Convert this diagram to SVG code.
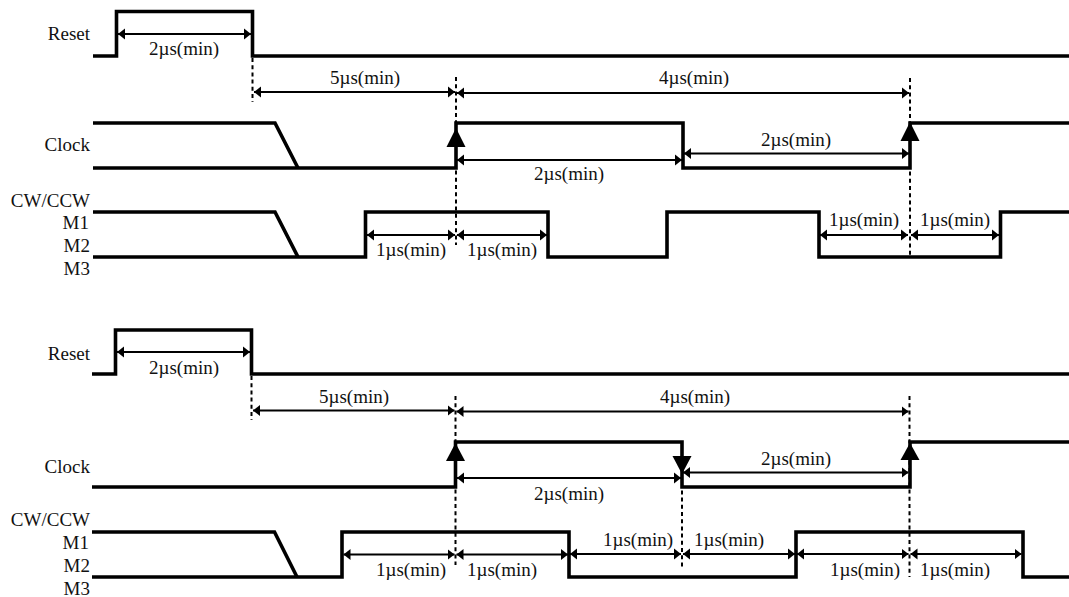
<svg xmlns="http://www.w3.org/2000/svg" width="1069" height="597" viewBox="0 0 1069 597">
<style>
text{font-family:"Liberation Serif","Times New Roman",serif;font-size:19px;fill:#111}
.l{text-anchor:end}
.c{text-anchor:middle}
.w{fill:none;stroke:#000;stroke-width:3.6;stroke-linejoin:miter;stroke-linecap:butt}
.d{fill:none;stroke:#000;stroke-width:2;stroke-dasharray:4 3.2}
.a{fill:none;stroke:#000;stroke-width:1.8;marker-start:url(#h);marker-end:url(#h)}
.b{fill:#000;stroke:none}
</style>
<defs>
<marker id="h" markerUnits="userSpaceOnUse" markerWidth="8" markerHeight="13" refX="7" refY="6" orient="auto-start-reverse"><path d="M0 0.500L7 6L0 11.500Z" fill="#000"/></marker>
</defs>
<rect width="1069" height="597" fill="#fff"/>
<g id="labels-top">
<text class="l" x="90" y="40">Reset</text>
<text class="l" x="90" y="151">Clock</text>
<text class="l" x="90" y="207">CW/CCW</text>
<text class="l" x="89" y="229">M1</text>
<text class="l" x="90" y="252">M2</text>
<text class="l" x="90" y="275">M3</text>
</g>
<g id="labels-bottom">
<text class="l" x="90" y="360">Reset</text>
<text class="l" x="90" y="473">Clock</text>
<text class="l" x="90" y="526">CW/CCW</text>
<text class="l" x="89" y="549">M1</text>
<text class="l" x="90" y="572">M2</text>
<text class="l" x="90" y="595">M3</text>
</g>
<g id="waveforms-top">
<path class="w" d="M93 56H116.500V11.500H252.500V56H1069"/>
<path class="w" d="M93 123H275L298 168"/>
<path class="w" d="M93 168H456V123H683V168H910V123H1069"/>
<path class="w" d="M93 212H275L298 257"/>
<path class="w" d="M93 257H365.500V212H548V257H667V212H819V257H1000.500V212H1069"/>
<path class="b" d="M456 128L465.500 147H446.500Z"/>
<path class="b" d="M910 122L919.500 141H900.500Z"/>
</g>
<g id="waveforms-bottom">
<path class="w" d="M92 374H115.500V330H251.500V374H1069"/>
<path class="w" d="M92 487H455.500V442H682V487H910V442H1069"/>
<path class="w" d="M92 532H274.500L297 577"/>
<path class="w" d="M92 577H342V532H569V577H796V532H1023V577H1069"/>
<path class="b" d="M455.500 443L465 461H446Z"/>
<path class="b" d="M682 474L672.500 456H691.500Z"/>
<path class="b" d="M910 443L919.500 460H900.500Z"/>
</g>
<g id="connectors">
<path class="d" d="M252.500 58V102"/>
<path class="d" d="M456 77V245"/>
<path class="d" d="M910 78V258"/>
<path class="d" d="M251.500 376V420"/>
<path class="d" d="M455.500 396V565"/>
<path class="d" d="M682 476V567"/>
<path class="d" d="M909.500 396V577"/>
<line class="a" x1="118" y1="34" x2="251" y2="34"/>
<line class="a" x1="254" y1="92" x2="455" y2="92"/>
<line class="a" x1="457" y1="93" x2="909" y2="93"/>
<line class="a" x1="457" y1="160" x2="682" y2="160"/>
<line class="a" x1="684" y1="153.500" x2="909" y2="153.500"/>
<line class="a" x1="367" y1="235" x2="455" y2="235"/>
<line class="a" x1="457" y1="235" x2="547" y2="235"/>
<line class="a" x1="820" y1="235" x2="908" y2="235"/>
<line class="a" x1="911" y1="235" x2="999" y2="235"/>
<line class="a" x1="117" y1="352" x2="250" y2="352"/>
<line class="a" x1="253" y1="410.500" x2="454.500" y2="410.500"/>
<line class="a" x1="456.500" y1="411.500" x2="908.500" y2="411.500"/>
<line class="a" x1="457" y1="478" x2="681" y2="478"/>
<line class="a" x1="683" y1="472.500" x2="908.500" y2="472.500"/>
<line class="a" x1="343.500" y1="554.500" x2="454.500" y2="554.500"/>
<line class="a" x1="456.500" y1="554.500" x2="568" y2="554.500"/>
<line class="a" x1="570" y1="554" x2="681" y2="554"/>
<line class="a" x1="683" y1="554" x2="795" y2="554"/>
<line class="a" x1="797" y1="554" x2="908.500" y2="554"/>
<line class="a" x1="910.500" y1="554" x2="1021.500" y2="554"/>
</g>
<g id="timing-labels-top">
<text class="c" x="184" y="55">2µs(min)</text>
<text class="c" x="365" y="84">5µs(min)</text>
<text class="c" x="694" y="84">4µs(min)</text>
<text class="c" x="569" y="180">2µs(min)</text>
<text class="c" x="796" y="146">2µs(min)</text>
<text class="c" x="411" y="256">1µs(min)</text>
<text class="c" x="502" y="256">1µs(min)</text>
<text class="c" x="864" y="226">1µs(min)</text>
<text class="c" x="955" y="226">1µs(min)</text>
</g>
<g id="timing-labels-bottom">
<text class="c" x="184" y="374">2µs(min)</text>
<text class="c" x="354" y="403">5µs(min)</text>
<text class="c" x="695" y="403">4µs(min)</text>
<text class="c" x="569" y="500">2µs(min)</text>
<text class="c" x="796" y="465">2µs(min)</text>
<text class="c" x="411" y="576">1µs(min)</text>
<text class="c" x="502" y="576">1µs(min)</text>
<text class="c" x="638" y="546">1µs(min)</text>
<text class="c" x="729" y="546">1µs(min)</text>
<text class="c" x="865" y="576">1µs(min)</text>
<text class="c" x="955" y="576">1µs(min)</text>
</g>
</svg>
